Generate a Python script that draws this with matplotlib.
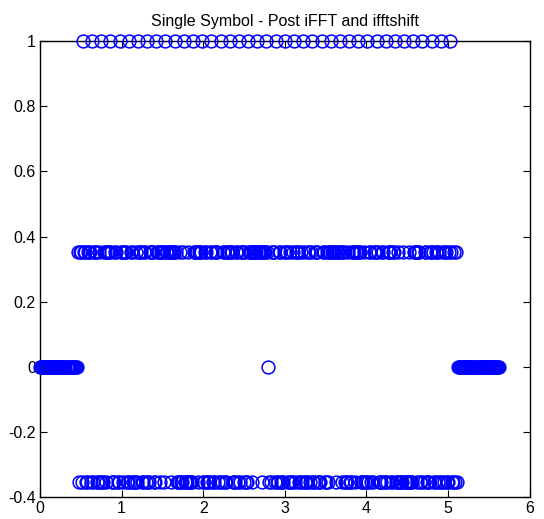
import matplotlib
matplotlib.use("Agg")
import matplotlib.pyplot as plt
import numpy as np

# Uniform sample spacing along x
dx = 0.0125

# Per-sample value codes: '0' -> 0, '1' -> 1, '+' -> 0.354, '-' -> -0.354
zeros_left = "0" * 37
lead_in = "+-++-"
blocks = [
    "1++--+++-", "1-+++--+-", "1--++-+++", "1+---++--", "1++-+++--",
    "1-++---+-", "1+++--++-", "1--++++--", "1+++-+++-", "1++++-+++",
    "1+---+--+", "1---+----", "1++++-+++", "1--++---+", "1+--+++--",
    "1-++--+++", "1++---++-", "1-+++-+--", "1+++-++++", "1++++-+++",
    "1+0--+++-", "1--++---+", "1++--+--+", "1-+++--+-", "1+---++-+",
    "1--+++---", "1++--+-++", "1++++-+++", "1+-++---+", "1--+++-++",
    "1++---+--", "1-++--+++", "1+---++--", "1-+++--++", "1--+----+",
    "1----+---", "1+++-++--", "1-++---++", "1+--++-+-", "1-+-++--+",
]
lead_out = "1+--+-+-"
zeros_right = "0" * 41

code_values = {"0": 0.0, "1": 1.0, "+": 0.354, "-": -0.354}

codes = zeros_left + lead_in + "".join(blocks) + lead_out + zeros_right
values = [code_values[c] for c in codes]
x_values = np.arange(len(values)) * dx

xticks = [0, 1, 2, 3, 4, 5, 6]
yticks = [-0.4, -0.2, 0, 0.2, 0.4, 0.6, 0.8, 1]
ytick_labels = ["-0.4", "-0.2", "0", "0.2", "0.4", "0.6", "0.8", "1"]
title = "Single Symbol - Post iFFT and ifftshift"

plt.rcParams['font.family'] = ['Liberation Sans', 'DejaVu Sans']

fig = plt.figure(figsize=(5.44, 5.19), dpi=100)
ax = fig.add_axes([0.0735, 0.042, 0.9, 0.879])
ax.plot(x_values, values, linestyle='none', marker='o', markersize=9.2,
        markerfacecolor='none', markeredgecolor=(0, 0, 1), markeredgewidth=1.1,
        clip_on=False, zorder=3)

ax.set_xlim(0, 6)
ax.set_ylim(-0.4, 1)
ax.set_xticks(xticks)
ax.set_xticklabels([str(t) for t in xticks])
ax.set_yticks(yticks)
ax.set_yticklabels(ytick_labels)
ax.tick_params(direction='in', length=5, width=0.8, labelsize=11.5,
               top=True, right=True, pad=3)
for s in ax.spines.values():
    s.set_linewidth(1.0)
ax.set_title(title, fontsize=11.5, pad=11)

fig.savefig("out.png", dpi=100)
